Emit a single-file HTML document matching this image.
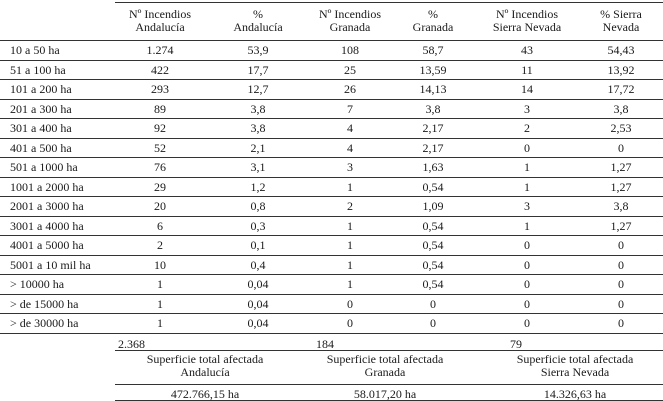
<!DOCTYPE html>
<html><head><meta charset="utf-8"><style>
body{margin:0;width:663px;height:401px;background:#fff;overflow:hidden;position:relative;font-family:"Liberation Serif",serif;font-size:12px;color:#1a1a1a}
.t{position:absolute;white-space:nowrap;line-height:13px}
.c{transform:translateX(-50%);text-align:center}
.h{position:absolute;height:1px;background:#333}
</style></head><body>
<div id="root"></div>
<script>
const rowLabels=["10 a 50 ha","51 a 100 ha","101 a 200 ha","201 a 300 ha","301 a 400 ha","401 a 500 ha","501 a 1000 ha","1001 a 2000 ha","2001 a 3000 ha","3001 a 4000 ha","4001 a 5000 ha","5001 a 10 mil ha","> 10000 ha","> de 15000 ha","> de 30000 ha"];
const nAnd=["1.274","422","293","89","92","52","76","29","20","6","2","10","1","1","1"];
const pAnd=["53,9","17,7","12,7","3,8","3,8","2,1","3,1","1,2","0,8","0,3","0,1","0,4","0,04","0,04","0,04"];
const nGra=["108","25","26","7","4","4","3","1","2","1","1","1","1","0","0"];
const pGra=["58,7","13,59","14,13","3,8","2,17","2,17","1,63","0,54","1,09","0,54","0,54","0,54","0,54","0","0"];
const nSN=["43","11","14","3","2","0","1","1","3","1","0","0","0","0","0"];
const pSN=["54,43","13,92","17,72","3,8","2,53","0","1,27","1,27","3,8","1,27","0","0","0","0","0"];
const headers=[["Nº Incendios","Andalucía"],["%","Andalucía"],["Nº Incendios","Granada"],["%","Granada"],["Nº Incendios","Sierra Nevada"],["% Sierra","Nevada"]];
const totals=["2.368","184","79"];
const surfNames=["Andalucía","Granada","Sierra Nevada"];
const surfVals=["472.766,15 ha","58.017,20 ha","14.326,63 ha"];
const root=document.getElementById('root');
const colX=[160,258,350,433,527,621];
function txt(s,x,y,center,name){const d=document.createElement('div');d.className='t'+(center?' c':'');d.style.left=x+'px';d.style.top=y+'px';d.textContent=s;


root.appendChild(d);}
function line(x,y,w,name){const d=document.createElement('div');d.className='h';d.style.left=x+'px';d.style.top=y+'px';d.style.width=w+'px';


root.appendChild(d);}
line(115,2,548,'header-top-rule');
headers.forEach((h,i)=>{txt(h[0],colX[i],8,true,'column-header');txt(h[1],colX[i],21,true,'column-header');});
const rowH=19.5,top0=40;
line(0,top0,663,'header-bottom-rule');
const cols=[nAnd,pAnd,nGra,pGra,nSN,pSN];
rowLabels.forEach((r,i)=>{const y=top0+i*rowH;txt(r,10,y+4,false,'row-label');
cols.forEach((c,j)=>txt(c[i],colX[j],y+4,true,'table-cell'));
line(0,Math.round(y+rowH),663,'row-rule');});
const tY=top0+15*rowH;
[118,316,510].forEach((x,i)=>txt(totals[i],x,tY+5,false,'total-count'));
line(115,tY+17,548,'totals-rule');
[205,385,575].forEach((x,i)=>{txt('Superficie total afectada',x,tY+20,true,'surface-header');txt(surfNames[i],x,tY+33,true,'surface-header');txt(surfVals[i],x,tY+55,true,'surface-value');});
line(115,tY+51,548,'surface-rule');
line(115,400,548,'bottom-rule');
</script>
</body></html>
